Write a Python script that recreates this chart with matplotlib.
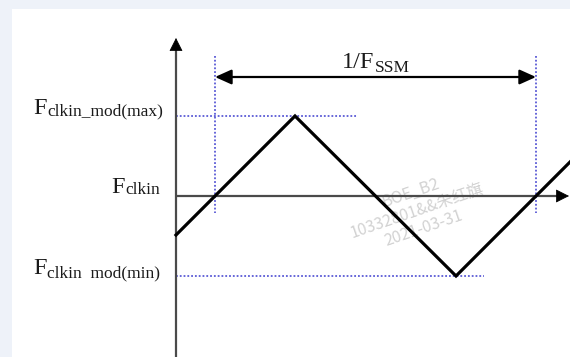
import matplotlib
matplotlib.use("Agg")
import matplotlib.pyplot as plt
from matplotlib.patches import FancyArrowPatch, Rectangle

# ---- data (diagram units: time offset from the y-axis, frequency offset from F_clkin) ----
time_pts = [0, 119, 280, 394]
freq_pts = [-39, 80, -80, 34]
f_max = 80
f_min = -80
f_center = 0
ssm_start = 39
ssm_end = 360
label_max = ("F", "clkin_mod(max)")
label_center = ("F", "clkin")
label_min = ("F", "clkin  mod(min)")
label_period = ("1/F", "SSM")
watermark = "BOE_B2\n10332801&&朱红旗\n2021-03-31"

W, H = 570, 357
fig = plt.figure(figsize=(W / 100, H / 100), dpi=100)
ax = fig.add_axes([0, 0, 1, 1])
ax.set_xlim(-176, 394)
ax.set_ylim(-161, 196)
ax.axis("off")

# light frame strips
ax.add_patch(Rectangle((0, 1 - 9 / H), 1, 9 / H, transform=ax.transAxes,
                       color="#eef2f9", lw=0, zorder=0))
ax.add_patch(Rectangle((0, 0), 12 / W, 1, transform=ax.transAxes,
                       color="#eef2f9", lw=0, zorder=0))

dot_color = "#5b5bd6"
# dotted reference lines
ax.plot([0, 181], [f_max, f_max], ls=(0, (1, 1.1)), color=dot_color, lw=1.3, zorder=2)
ax.plot([0, 308], [f_min, f_min], ls=(0, (1, 1.1)), color=dot_color, lw=1.3, zorder=2)
for t in (ssm_start, ssm_end):
    ax.plot([t, t], [140, -17], ls=(0, (1, 1.1)), color=dot_color, lw=1.3, zorder=2)

# axes: gray shafts with black arrowheads
ax.plot([0, 0], [-161, 150], color="#4a4a4a", lw=1.6, zorder=3, solid_capstyle="butt")
ax.plot([0, 386], [f_center, f_center], color="#4a4a4a", lw=1.6, zorder=3, solid_capstyle="butt")
head_kw = dict(arrowstyle="-|>,head_length=0.85,head_width=0.43", mutation_scale=10,
               color="black", lw=0.5, shrinkA=0, shrinkB=0, zorder=3)
ax.add_patch(FancyArrowPatch((0, 150), (0, 158), **head_kw))
ax.add_patch(FancyArrowPatch((385, f_center), (393, f_center), **head_kw))

# triangle wave
ax.plot(time_pts, freq_pts, color="black", lw=2.3, solid_joinstyle="miter", zorder=4)

# period double arrow
ax.add_patch(FancyArrowPatch((ssm_start, 119), (ssm_end, 119),
                             arrowstyle="<|-|>,head_length=1.0,head_width=0.45",
                             mutation_scale=10, color="black", lw=1.6,
                             shrinkA=0, shrinkB=0, zorder=4))

# watermark
ax.text(241, -15, watermark, rotation=19, ha="center", va="center", multialignment="center",
        fontsize=11.5, color="#d2d2d2", family=["Noto Sans CJK SC", "DejaVu Sans"],
        linespacing=1.15, zorder=1)

fig.canvas.draw()
renderer = fig.canvas.get_renderer()
serif = "Liberation Serif"
txt_color = "#1a1a1a"


def right_label(x_right, y_sub, y_main, parts):
    main, sub = parts
    ts = ax.text(x_right, y_sub, sub, ha="right", va="baseline", fontsize=12.5,
                 family=serif, color=txt_color, zorder=5)
    bb = ts.get_window_extent(renderer)
    x0 = ax.transData.inverted().transform((bb.x0, bb.y0))[0]
    ax.text(x0, y_main, main, ha="right", va="baseline", fontsize=17.5,
            family=serif, color=txt_color, zorder=5)


def left_label(x_left, y_main, y_sub, parts):
    main, sub = parts
    tm = ax.text(x_left, y_main, main, ha="left", va="baseline", fontsize=17.5,
                 family=serif, color=txt_color, zorder=5)
    bb = tm.get_window_extent(renderer)
    x1 = ax.transData.inverted().transform((bb.x1, bb.y0))[0]
    ax.text(x1 + 1, y_sub, sub, ha="left", va="baseline", fontsize=12.5,
            family=serif, color=txt_color, zorder=5)


right_label(-13, 81, 82, label_max)
right_label(-16, 2, 3, label_center)
right_label(-16, -81, -78, label_min)
left_label(166, 128, 124, label_period)

fig.savefig("out.png", dpi=100)
